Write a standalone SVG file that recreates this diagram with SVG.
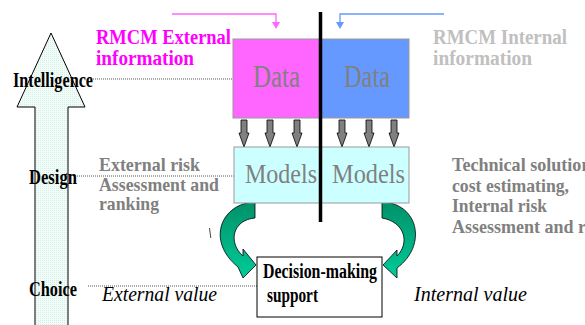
<svg xmlns="http://www.w3.org/2000/svg" width="585" height="325" viewBox="0 0 585 325">
<style>
.lbl{font-family:"Liberation Serif","Times New Roman",serif;font-weight:bold;font-size:20px;fill:#000}
.big{font-family:"Liberation Serif","Times New Roman",serif;font-size:31px;fill:#808080}
.mod{font-family:"Liberation Serif","Times New Roman",serif;font-size:28px;fill:#808080}
.info{font-family:"Liberation Serif","Times New Roman",serif;font-weight:bold;font-size:20px}
.gray{font-family:"Liberation Serif","Times New Roman",serif;font-weight:bold;font-size:19px;fill:#808080}
.val{font-family:"Liberation Serif","Times New Roman",serif;font-style:italic;font-size:21px;fill:#000}
.dot{stroke:#555;stroke-width:1;stroke-dasharray:1 1;fill:none}
.dn{fill:#808080;stroke:#000;stroke-width:0.8}
.curve{fill:url(#gg);stroke:#000;stroke-width:0.8}
</style>
<defs>
<pattern id="dots" width="2" height="2" patternUnits="userSpaceOnUse">
<rect width="2" height="2" fill="#f2fcf8"/>
<rect width="1" height="1" fill="#d6efe4"/>
</pattern>
<linearGradient id="gg" x1="0" y1="0" x2="0" y2="1">
<stop offset="0" stop-color="#009068"/>
<stop offset="0.35" stop-color="#00a57a"/>
<stop offset="1" stop-color="#00cc99"/>
</linearGradient>
<path id="dnArrow" d="M-3,0 H3 V13 H5 L0,27 L-5,13 H-3 Z"/>
</defs>
<rect width="585" height="325" fill="#fff"/>

<g id="phase-arrow">
<polygon points="51,33 85,107 68,107 68,326 35,326 35,107 17,107" fill="url(#dots)" stroke="#000" stroke-width="1"/>
</g>

<g id="connectors">
<line class="dot" x1="93" y1="79" x2="248" y2="79"/>
<line class="dot" x1="77" y1="176" x2="245" y2="176"/>
<line class="dot" x1="88" y1="286" x2="257" y2="286"/>
<polyline points="172,14 276,14 276,23" fill="none" stroke="#ff66ff" stroke-width="1.3"/>
<polygon points="272,22 280,22 276,29" fill="#ff66ff"/>
<polyline points="444,14 340,14 340,23" fill="none" stroke="#6699ff" stroke-width="1.3"/>
<polygon points="336,22 344,22 340,29" fill="#6699ff"/>
<use href="#dnArrow" x="244" y="120" class="dn"/>
<use href="#dnArrow" x="270" y="120" class="dn"/>
<use href="#dnArrow" x="297" y="120" class="dn"/>
<use href="#dnArrow" x="342" y="120" class="dn"/>
<use href="#dnArrow" x="369" y="120" class="dn"/>
<use href="#dnArrow" x="394" y="120" class="dn"/>
<path class="curve" d="M255,202 C222,203 205,240 238,267 L243,278 L256,265 L243,249 L243,256 C228,243 232,220 255,218 Z"/>
<path class="curve" d="M382,202 C418,203 428,245 397,268 L397,278 L383,265 L397,250 L397,256 C410,243 405,222 382,218 Z"/>
<line x1="209.5" y1="228" x2="210.8" y2="238" stroke="#333" stroke-width="0.9"/>
</g>

<g id="labels">
<text class="lbl" x="13" y="87" textLength="80" lengthAdjust="spacingAndGlyphs">Intelligence</text>
<text class="lbl" x="29" y="184" textLength="48" lengthAdjust="spacingAndGlyphs">Design</text>
<text class="lbl" x="29" y="296" textLength="48" lengthAdjust="spacingAndGlyphs">Choice</text>
</g>

<g id="external-info">
<text class="info" fill="#ff00ff" x="96" y="44" textLength="135" lengthAdjust="spacingAndGlyphs">RMCM External</text>
<text class="info" fill="#ff00ff" x="96" y="65" textLength="98" lengthAdjust="spacingAndGlyphs">information</text>
</g>

<g id="internal-info">
<text class="info" fill="#c0c0c0" x="433" y="44" textLength="134" lengthAdjust="spacingAndGlyphs">RMCM Internal</text>
<text class="info" fill="#c0c0c0" x="433" y="65" textLength="99" lengthAdjust="spacingAndGlyphs">information</text>
</g>

<g id="data-external">
<rect x="233" y="39" width="87" height="79" fill="#ff66ff" stroke="#999" stroke-width="1"/>
<text class="big" x="253" y="87" textLength="47" lengthAdjust="spacingAndGlyphs">Data</text>
</g>
<g id="data-internal">
<rect x="320" y="39" width="89" height="79" fill="#6699ff" stroke="#999" stroke-width="1"/>
<text class="big" x="344" y="87" textLength="46" lengthAdjust="spacingAndGlyphs">Data</text>
</g>

<g id="models">
<rect x="234" y="147" width="175" height="56" fill="#ccffff" stroke="#999" stroke-width="1"/>
<text class="mod" x="245" y="183" textLength="72" lengthAdjust="spacingAndGlyphs">Models</text>
<text class="mod" x="332" y="183" textLength="73" lengthAdjust="spacingAndGlyphs">Models</text>
</g>

<g id="divider">
<line x1="320.5" y1="12" x2="320.5" y2="222" stroke="#000" stroke-width="3.5"/>
</g>

<g id="external-risk">
<text class="gray" x="99" y="171" textLength="101" lengthAdjust="spacingAndGlyphs">External risk</text>
<text class="gray" x="99" y="191" textLength="120" lengthAdjust="spacingAndGlyphs">Assessment and</text>
<text class="gray" x="99" y="210" textLength="60" lengthAdjust="spacingAndGlyphs">ranking</text>
</g>

<g id="technical">
<text class="gray" x="452" y="171" textLength="151" lengthAdjust="spacingAndGlyphs">Technical solutions,</text>
<text class="gray" x="452" y="192" textLength="117" lengthAdjust="spacingAndGlyphs">cost estimating,</text>
<text class="gray" x="452" y="212" textLength="95" lengthAdjust="spacingAndGlyphs">Internal risk</text>
<text class="gray" x="452" y="233" textLength="187" lengthAdjust="spacingAndGlyphs">Assessment and ranking</text>
</g>

<g id="decision">
<rect x="257" y="257" width="125" height="60" fill="#fff" stroke="#000" stroke-width="1"/>
<text class="lbl" x="263" y="278" textLength="114" lengthAdjust="spacingAndGlyphs">Decision-making</text>
<text class="lbl" x="267" y="302" textLength="51" lengthAdjust="spacingAndGlyphs">support</text>
</g>

<g id="values">
<text class="val" x="102" y="301" textLength="115" lengthAdjust="spacingAndGlyphs">External value</text>
<text class="val" x="414" y="301" textLength="113" lengthAdjust="spacingAndGlyphs">Internal value</text>
</g>
</svg>
